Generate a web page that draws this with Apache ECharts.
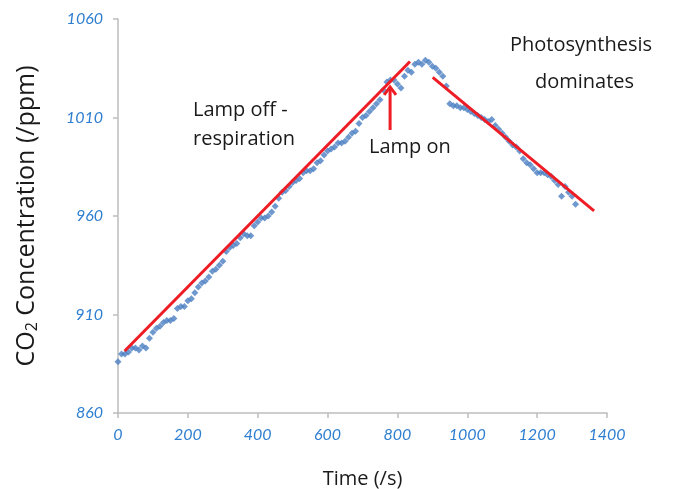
<!DOCTYPE html>
<html>
<head>
<meta charset="utf-8">
<script src="https://cdn.jsdelivr.net/npm/echarts@6/dist/echarts.min.js"></script>
<style>
  html, body { margin: 0; padding: 0; background: #fff; }
  #chart { width: 673px; height: 489px; }
</style>
</head>
<body>
<div id="chart"></div>
<script>
// time (s) and CO2 readings (ppm)
var times = [];
for (var t = 0; t <= 1310; t += 10) times.push(t);
var co2 = [
  886, 890, 890, 891, 893, 893, 892, 894, 893, 898,
  901, 903, 904, 906, 907, 907, 908, 913, 914, 914,
  917, 918, 921, 924, 926, 927, 929, 932, 933, 935,
  937, 942, 944, 945, 946, 949, 951, 950, 950, 955,
  957, 959, 959, 960, 962, 965, 969, 972, 973, 975,
  977, 978, 979, 982, 983, 983, 984, 987, 988, 991,
  993, 994, 995, 997, 997, 998, 1000, 1002, 1003, 1007,
  1010, 1011, 1013, 1015, 1017, 1019, 1024, 1028, 1029, 1029,
  1027, 1025, 1031, 1034, 1033, 1037, 1038, 1037, 1039, 1038,
  1036, 1035, 1033, 1031, 1026, 1017, 1016, 1016, 1015, 1015,
  1014, 1013, 1012, 1011, 1010, 1009, 1008, 1009, 1006, 1004,
  1002, 1000, 998, 996, 995, 993, 989, 987, 986, 984,
  982, 982, 982, 981, 980, 978, 976, 970, 975, 972,
  970, 966
];
// trend lines drawn by hand on the original
var trendLampOff = [[19, 891.5], [836, 1038.4]];
var trendLampOn = [[901, 1030.4], [1363, 962.6]];
// "Lamp on" arrow: shaft and chevron head
var arrowShaft = [[779, 1003.6], [779, 1025.5]];
var arrowHead = [[762, 1021.5], [779, 1025.5], [796, 1021.5]];

var Y_MIN = 860; // axis runs 860..1060 in steps of 50

function shift(pts) {
  return pts.map(function (p) { return [p[0], p[1] - Y_MIN]; });
}

var points = times.map(function (x, i) { return [x, co2[i]]; });

var red = '#ee1c24';
var blue = '#2f7fd1';
var font = 'Lato';
var textFont = 'Open Sans';
var note = '20px "Open Sans"';

var chart = echarts.init(document.getElementById('chart'));
chart.setOption({
  animation: false,
  grid: { left: 118, right: 66, top: 19, bottom: 76, containLabel: false, outerBoundsMode: 'none' },
  xAxis: {
    type: 'value', min: 0, max: 1400, interval: 200,
    name: 'Time (/s)', nameLocation: 'middle', nameGap: 56,
    nameTextStyle: { fontFamily: textFont, fontSize: 20, color: '#1a1a1a' },
    axisLine: { lineStyle: { color: '#bdbdbd', width: 1.5 } },
    axisTick: { show: true, length: 5, lineStyle: { color: '#bdbdbd', width: 1.5 } },
    axisLabel: {
      color: blue, fontStyle: 'italic', fontFamily: font, fontSize: 16, margin: 14,
      formatter: function (v) { return String(v); }
    },
    splitLine: { show: false }
  },
  yAxis: {
    type: 'value', min: 0, max: 200, interval: 50,
    name: 'CO{sub|2} Concentration (/ppm)', nameLocation: 'middle', nameGap: 78, nameRotate: 90,
    nameTextStyle: {
      fontFamily: textFont, fontSize: 25, color: '#1a1a1a',
      rich: { sub: { fontFamily: textFont, fontSize: 16, color: '#1a1a1a', verticalAlign: 'bottom', padding: [10, 0, 0, 0] } }
    },
    axisLine: { show: true, lineStyle: { color: '#bdbdbd', width: 1.5 } },
    axisTick: { show: true, length: 5, lineStyle: { color: '#bdbdbd', width: 1.5 } },
    axisLabel: {
      color: blue, fontStyle: 'italic', fontFamily: font, fontSize: 16, margin: 15,
      formatter: function (v) { return String(v + Y_MIN); }
    },
    splitLine: { show: false }
  },
  series: [
    {
      type: 'scatter', data: shift(points), symbol: 'diamond', symbolSize: 7,
      itemStyle: { color: '#4a7ec2' }, z: 2
    },
    {
      type: 'line', data: shift(trendLampOff), symbol: 'none',
      lineStyle: { color: red, width: 3 }, z: 3
    },
    {
      type: 'line', data: shift(trendLampOn), symbol: 'none',
      lineStyle: { color: red, width: 3 }, z: 3
    },
    {
      type: 'line', data: shift(arrowShaft), symbol: 'none',
      lineStyle: { color: red, width: 3 }, z: 3
    },
    {
      type: 'line', data: shift(arrowHead), symbol: 'none',
      lineStyle: { color: red, width: 3, join: 'miter' }, z: 3
    }
  ],
  graphic: [
    { type: 'text', left: 193, top: 100, style: { text: 'Lamp off -', font: note, fill: '#1a1a1a' } },
    { type: 'text', left: 193, top: 129, style: { text: 'respiration', font: note, fill: '#1a1a1a' } },
    { type: 'text', left: 369, top: 137, style: { text: 'Lamp on', font: note, fill: '#1a1a1a' } },
    { type: 'text', left: 510, top: 35, style: { text: 'Photosynthesis', font: note, fill: '#1a1a1a' } },
    { type: 'text', left: 535, top: 72, style: { text: 'dominates', font: note, fill: '#1a1a1a' } }
  ]
});
</script>
</body>
</html>
